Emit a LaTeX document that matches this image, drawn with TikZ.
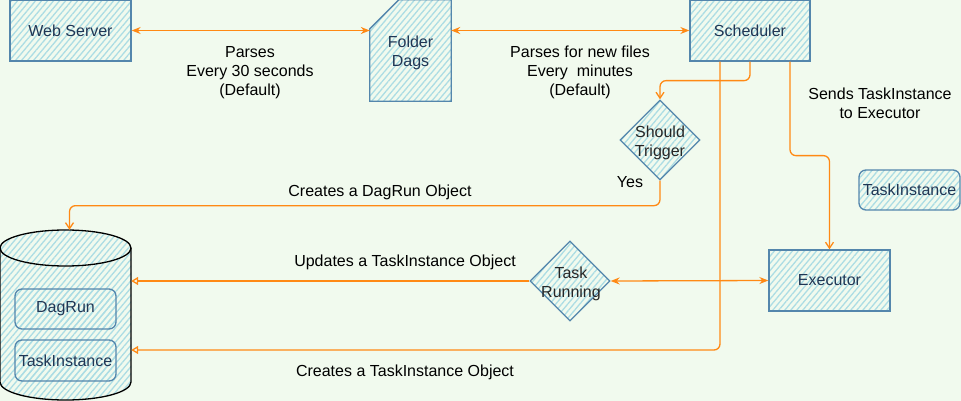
\documentclass[tikz,border=0pt]{standalone}
\usepackage{fontspec}
\setmainfont{Liberation Sans}
\usetikzlibrary{patterns.meta,arrows.meta,shapes.geometric}
\definecolor{bg}{RGB}{241,250,238}
\definecolor{hatch}{RGB}{172,221,228}
\definecolor{stroke}{RGB}{84,134,172}
\definecolor{ntext}{RGB}{32,54,84}
\definecolor{arr}{RGB}{255,137,20}
\tikzset{
  hatched/.style={pattern={Lines[angle=50,distance=4.6pt,line width=1.3pt]},pattern color=hatch},
  box/.style={hatched, draw=stroke, line width=1.3pt, text=ntext,
    font=\fontsize{16}{19}\selectfont, align=center, inner sep=0pt},
  rbox/.style={box, rounded corners=7pt},
  dia/.style={hatched, draw=stroke, line width=1.3pt, diamond, inner sep=0pt,
    minimum width=80pt, minimum height=80pt},
  lbl/.style={font=\fontsize{16}{19}\selectfont, align=center, text=black, inner sep=0pt},
  dlbl/.style={lbl, text=black!85},
  conn/.style={draw=arr, line width=1.3pt, rounded corners=6pt},
  bhead/.style={{Stealth[length=9pt,width=7pt]}-{Stealth[length=9pt,width=7pt]}},
  ohead/.style={-{Straight Barb[length=6pt,width=8pt]}},
  thead/.style={-{Triangle[open,length=7pt,width=8pt]}},
}
\begin{document}
\begin{tikzpicture}[x=1pt,y=-1pt]
\useasboundingbox (0,0) rectangle (961,401);
\fill[bg] (0,0) rectangle (961,401);

% Nodes
\node[box, minimum width=121pt, minimum height=61pt] (ws) at (70.5,30.5) {Web Server};
\node[lbl, minimum width=81pt, minimum height=101pt] (fd) at (410.5,50.5) {};
\path[hatched, draw=stroke, line width=1.3pt] (fd.north west) ++(0,29) -- ++(29,-29) -- (fd.north east) -- (fd.south east) -- (fd.south west) -- cycle;
\node[lbl, text=ntext] (fdt) at (410.5,52.5) {Folder\\Dags};
\node[box, minimum width=120pt, minimum height=61pt] (sch) at (750,30.5) {Scheduler};
\node[dia] (st) at (660,140) {};
\node[dlbl] (stt) at (660,142.5) {Should\\Trigger};
\node[rbox, minimum width=101pt, minimum height=40pt] (ti2) at (909.5,190) {TaskInstance};
\node[box, minimum width=121pt, minimum height=61pt] (ex) at (829.5,280.5) {Executor};
\node[dia] (tr) at (570,281) {};
\node[dlbl] (trt) at (571,283.5) {Task\\Running};

% Database cylinder
\node[lbl, minimum width=131pt, minimum height=170pt] (db) at (65.5,315) {};
\path[hatched] (0,248) -- (0,382) .. controls (0,392) and (29.3,400) .. (65.5,400)
   .. controls (101.7,400) and (131,392) .. (131,382) -- (131,248)
   .. controls (131,238) and (101.7,230) .. (65.5,230) .. controls (29.3,230) and (0,238) .. (0,248) -- cycle;
\draw[stroke, line width=1.3pt] (0,248) -- (0,382) .. controls (0,392) and (29.3,400) .. (65.5,400)
   .. controls (101.7,400) and (131,392) .. (131,382) -- (131,248);
\draw[stroke, line width=1.3pt] (65.5,248) ellipse [x radius=65.5pt, y radius=18pt];
\node[rbox, minimum width=101pt, minimum height=40pt] (dr) at (65.5,309) {DagRun};
\node[rbox, minimum width=101pt, minimum height=41pt] (ti1) at (65.5,360.5) {TaskInstance};

% Connectors
\draw[conn, bhead] (ws.east) -- (ws.east -| fd.west);
\draw[conn, bhead] (sch.west -| fd.east) -- (sch.west);
\draw[conn, ohead] (sch.south) -- ++(0,19) -| (st.north);
\draw[conn, ohead] (st.south) -- ++(0,25) -| ([xshift=4pt]db.north);
\draw[conn, ohead] ([xshift=40pt]sch.south) -- ++(0,94) -| (ex.north);
\draw[conn, thead] ([xshift=-30pt]sch.south) |- ([yshift=-35pt]db.east);
\draw[conn, thead] (tr.west) -- (tr.west -| db.east);
\draw[conn, bhead] (tr.east) -- (ex.west);

% Labels
\node[lbl] (l1) at (250,72.5) {Parses\\Every 30 seconds\\(Default)};
\node[lbl] (l2) at (580,72.5) {Parses for new files\\Every \ minutes\\(Default)};
\node[lbl] (l3) at (880,103) {Sends TaskInstance\\to Executor};
\node[lbl] (l4) at (630,182.5) {Yes};
\node[lbl] (l5) at (380,192) {Creates a DagRun Object};
\node[lbl] (l6) at (405,262) {Updates a TaskInstance Object};
\node[lbl] (l7) at (405,372.5) {Creates a TaskInstance Object};
\end{tikzpicture}
\end{document}
